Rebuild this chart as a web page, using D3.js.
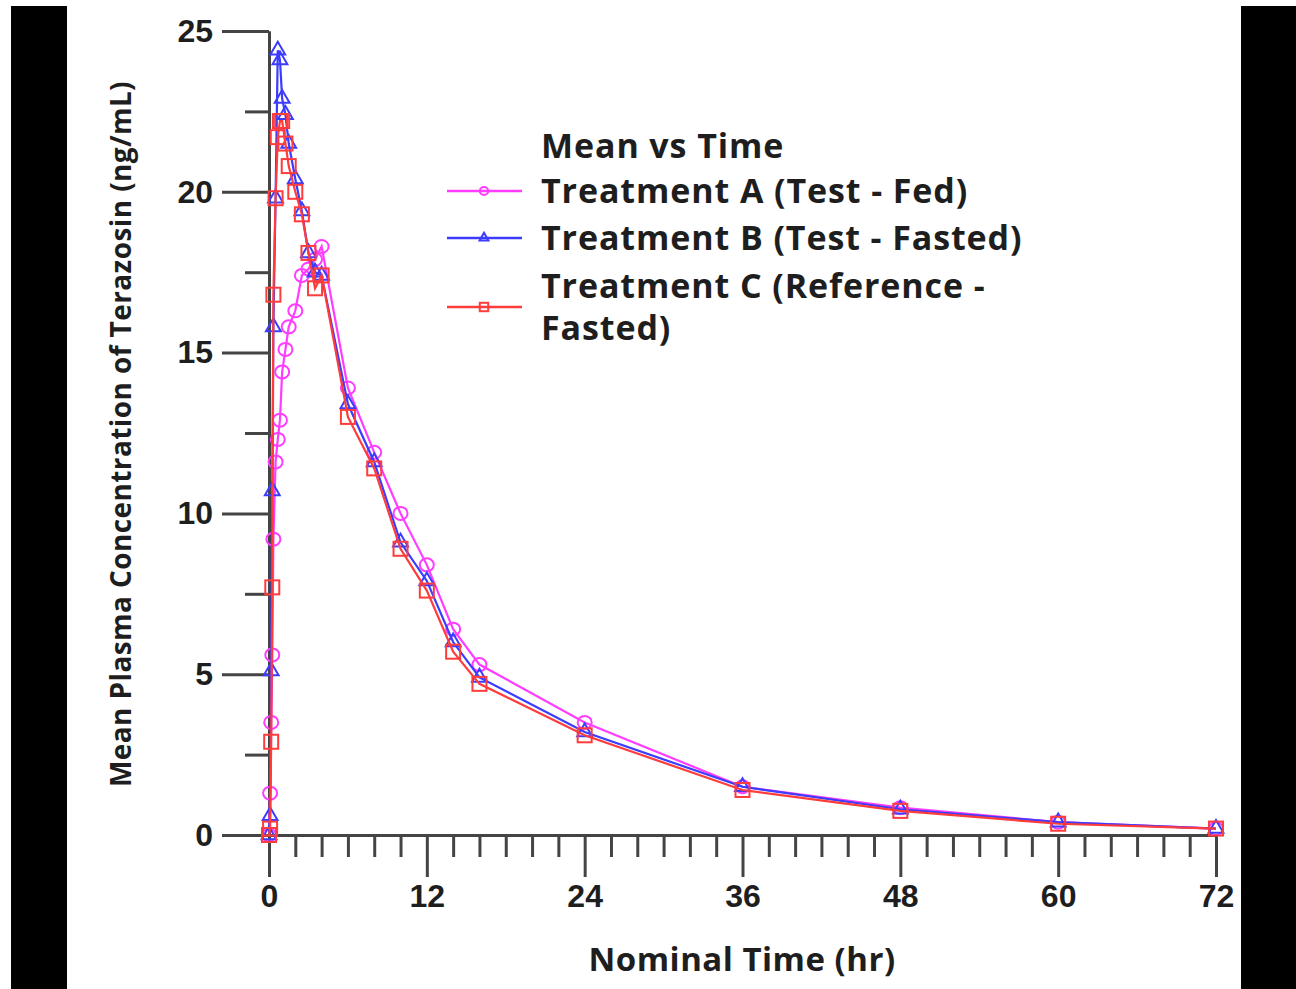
<!DOCTYPE html>
<html>
<head>
<meta charset="utf-8">
<script src="https://cdn.jsdelivr.net/npm/d3@7"></script>
<style>
  body { margin: 0; background: #fff; }
  svg { display: block; font-family: "Open Sans", "Noto Sans", sans-serif; }
</style>
</head>
<body>
<script>
const WIDTH = 1296;
const HEIGHT = 989;

// nominal sampling times (hr)
const times = [0, 0.083, 0.167, 0.25, 0.333, 0.5, 0.667, 0.833, 1, 1.25, 1.5, 2, 2.5, 3, 3.5, 4,
  6, 8, 10, 12, 14, 16, 24, 36, 48, 60, 72];

// mean concentrations (ng/mL)
const treatmentA = [0, 1.3, 3.5, 5.6, 9.2, 11.6, 12.3, 12.9, 14.4, 15.1, 15.8, 16.3, 17.4, 17.6, 17.9, 18.3,
  13.9, 11.9, 10.0, 8.4, 6.4, 5.3, 3.5, 1.5, 0.85, 0.4, 0.2];
const treatmentB = [0, 0.6, 5.1, 10.7, 15.8, 19.8, 24.4, 24.1, 22.9, 22.4, 21.5, 20.4, 19.4, 18.1, 17.5, 17.4,
  13.4, 11.6, 9.1, 7.9, 6.0, 4.9, 3.2, 1.5, 0.8, 0.4, 0.2];
const treatmentC = [0, 0.2, 2.9, 7.7, 16.8, 19.8, 21.7, 22.2, 22.2, 21.5, 20.8, 20.0, 19.3, 18.1, 17.0, 17.4,
  13.0, 11.4, 8.9, 7.6, 5.7, 4.7, 3.1, 1.4, 0.75, 0.35, 0.2];

const seriesNames = ["Treatment A (Test - Fed)", "Treatment B (Test - Fasted)", "Treatment C (Reference -", "Fasted)"];
const xTicks = [0, 12, 24, 36, 48, 60, 72];
const yTicks = [0, 5, 10, 15, 20, 25];

const series = [
  { name: seriesNames[0], values: treatmentA, color: "#ff3cff", marker: "circle" },
  { name: seriesNames[1], values: treatmentB, color: "#3c3cff", marker: "triangle" },
  { name: seriesNames[2], values: treatmentC, color: "#ff3c3c", marker: "square" },
];

const x = d3.scaleLinear([0, 72], [269, 1216]);
const y = d3.scaleLinear([0, 25], [835, 31]);

const svg = d3.select("body").append("svg")
    .attr("width", WIDTH)
    .attr("height", HEIGHT);

// black side bands of the screenshot
svg.append("rect").attr("x", 11).attr("y", 6).attr("width", 56).attr("height", HEIGHT - 6).attr("fill", "#000");
svg.append("rect").attr("x", 1241).attr("y", 6).attr("width", WIDTH - 1241).attr("height", HEIGHT - 6).attr("fill", "#000");

function styleAxis(g) {
  g.select(".domain").attr("stroke", "#444").attr("stroke-width", 3);
  g.selectAll(".tick line").attr("stroke", "#444").attr("stroke-width", 3);
  g.selectAll(".tick text")
      .attr("fill", "#1e1e1e")
      .style("font-size", "32px")
      .style("font-weight", 700);
}

// y axis, minor then major
svg.append("g")
    .attr("transform", "translate(269,0)")
    .call(d3.axisLeft(y).tickValues(d3.range(2.5, 25, 5)).tickSize(24).tickSizeOuter(0).tickFormat(""))
    .call(styleAxis);
svg.append("g")
    .attr("transform", "translate(269,0)")
    .call(d3.axisLeft(y).tickValues(yTicks).tickSize(47).tickSizeOuter(0).tickPadding(9))
    .call(styleAxis);

// x axis
svg.append("g")
    .attr("transform", "translate(0,835)")
    .call(d3.axisBottom(x).tickValues(d3.range(2, 72, 2).filter(d => d % 12)).tickSize(22).tickSizeOuter(0).tickFormat(""))
    .call(styleAxis);
svg.append("g")
    .attr("transform", "translate(0,835)")
    .call(d3.axisBottom(x).tickValues(xTicks).tickSize(42).tickSizeOuter(0).tickPadding(7))
    .call(styleAxis);

// axis titles
svg.append("text")
    .attr("x", 742).attr("y", 971)
    .attr("text-anchor", "middle")
    .attr("fill", "#1e1e1e")
    .style("font-size", "33px").style("font-weight", 700)
    .style("letter-spacing", "0.5px")
    .text("Nominal Time (hr)");

svg.append("text")
    .attr("transform", "translate(131,434) rotate(-90)")
    .attr("text-anchor", "middle")
    .attr("fill", "#1e1e1e")
    .style("font-size", "28px").style("font-weight", 700)
    .style("letter-spacing", "0.4px")
    .text("Mean Plasma Concentration of Terazosin (ng/mL)");

function drawMarker(sel, marker, color, scale) {
  if (marker === "circle") {
    sel.append("ellipse").attr("rx", 7 * scale).attr("ry", 6.5 * scale);
  } else if (marker === "triangle") {
    sel.append("path").attr("d", d3.symbol(d3.symbolTriangle, 95 * scale * scale)());
  } else {
    sel.append("rect")
        .attr("x", -7 * scale).attr("y", -7 * scale)
        .attr("width", 14 * scale).attr("height", 14 * scale);
  }
  sel.selectAll("ellipse,path,rect")
      .attr("fill", "none")
      .attr("stroke", color)
      .attr("stroke-width", 2);
}

const line = d3.line()
    .x(d => x(d[0]))
    .y(d => y(d[1]));

for (const s of series) {
  const pts = times.map((t, i) => [t, s.values[i]]);
  const g = svg.append("g");
  g.append("path")
      .datum(pts)
      .attr("fill", "none")
      .attr("stroke", s.color)
      .attr("stroke-width", 2.2)
      .attr("d", line);
  g.selectAll("g.pt")
    .data(pts)
    .join("g")
      .attr("class", "pt")
      .attr("transform", d => `translate(${x(d[0])},${y(d[1])})`)
      .each(function() { drawMarker(d3.select(this), s.marker, s.color, 1); });
}

// legend
const legend = svg.append("g")
    .attr("fill", "#1e1e1e")
    .style("font-size", "34px")
    .style("font-weight", 700)
    .style("letter-spacing", "0.9px");

legend.append("text")
    .attr("x", 541).attr("y", 146).attr("dy", "0.35em")
    .text("Mean vs Time");

const legendRows = [191, 238, 307];
series.forEach((s, i) => {
  const row = legend.append("g").attr("transform", `translate(0,${legendRows[i]})`);
  row.append("line")
      .attr("x1", 447).attr("x2", 522)
      .attr("stroke", s.color).attr("stroke-width", 2.5);
  const m = row.append("g").attr("transform", "translate(484,0)");
  drawMarker(m, s.marker, s.color, 0.6);
});

legend.append("text").attr("x", 541).attr("y", 191).attr("dy", "0.35em").text(seriesNames[0]);
legend.append("text").attr("x", 541).attr("y", 238).attr("dy", "0.35em").text(seriesNames[1]);
legend.append("text").attr("x", 541).attr("y", 286).attr("dy", "0.35em").text(seriesNames[2]);
legend.append("text").attr("x", 541).attr("y", 328).attr("dy", "0.35em").text(seriesNames[3]);
</script>
</body>
</html>
